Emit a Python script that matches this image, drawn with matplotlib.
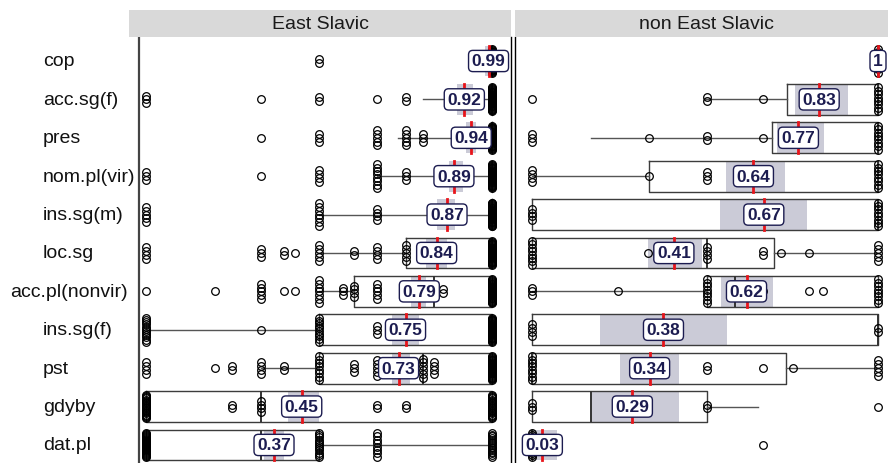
import numpy as np
import matplotlib
matplotlib.use("Agg")
import matplotlib.pyplot as plt
import matplotlib.transforms as mtransforms
from matplotlib.patches import Rectangle

plt.rcParams["font.family"] = ["Liberation Sans", "DejaVu Sans"]

rows = ["cop", "acc.sg(f)", "pres", "nom.pl(vir)", "ins.sg(m)", "loc.sg",
        "acc.pl(nonvir)", "ins.sg(f)", "pst", "gdyby", "dat.pl"]
panels = ["East Slavic", "non East Slavic"]

# East Slavic
es_mean = [0.99, 0.92, 0.94, 0.89, 0.87, 0.84, 0.79, 0.75, 0.73, 0.45, 0.37]
es_ci_lo = [0.98, 0.90, 0.925, 0.876, 0.84, 0.81, 0.766, 0.71, 0.71, 0.41, 0.34]
es_ci_hi = [1.00, 0.945, 0.955, 0.916, 0.893, 0.87, 0.81, 0.79, 0.763, 0.50, 0.40]
# whislo, q1, med, q3, whishi
es_box = [(1, 1, 1, 1, 1), (0.8, 1, 1, 1, 1), (0.727, 1, 1, 1, 1),
          (0.667, 1, 1, 1, 1), (0.5, 1, 1, 1, 1), (0.5, 0.75, 1, 1, 1),
          (0.5, 0.6, 0.833, 1, 1), (0, 0.5, 1, 1, 1), (0.333, 0.5, 0.8, 1, 1),
          (0, 0, 0.333, 1, 1), (0, 0, 0.333, 0.5, 1)]
es_points = [
    {0.5: 2, 1: 30},
    {0: 3, 0.333: 1, 0.5: 2, 0.667: 1, 0.75: 2, 1: 30},
    {0.333: 1, 0.5: 3, 0.667: 5, 0.75: 5, 0.8: 3, 1: 30},
    {0: 3, 0.333: 1, 0.5: 4, 0.667: 8, 0.75: 3, 1: 30},
    {0: 5, 0.5: 7, 0.667: 4, 1: 30},
    {0: 4, 0.333: 3, 0.4: 2, 0.43: 1, 0.5: 5, 0.6: 2, 0.667: 4, 0.75: 5, 0.8: 1, 1: 30},
    {0: 1, 0.2: 1, 0.333: 5, 0.4: 1, 0.43: 1, 0.5: 7, 0.57: 3, 0.6: 4, 0.667: 5, 0.857: 2, 1: 30},
    {0: 12, 0.333: 1, 0.5: 10, 0.667: 3, 1: 30},
    {0: 4, 0.2: 1, 0.25: 2, 0.333: 4, 0.4: 2, 0.5: 8, 0.6: 3, 0.667: 5, 0.8: 6, 0.833: 4, 1: 30},
    {0: 20, 0.25: 2, 0.333: 4, 0.667: 2, 0.75: 2, 1: 20},
    {0: 25, 0.333: 3, 0.5: 12, 0.667: 8, 1: 15},
]

# non East Slavic
nes_mean = [1, 0.83, 0.77, 0.64, 0.67, 0.41, 0.62, 0.38, 0.34, 0.29, 0.03]
nes_ci_lo = [1, 0.76, 0.708, 0.56, 0.543, 0.335, 0.546, 0.196, 0.254, 0.17, 0.0]
nes_ci_hi = [1, 0.913, 0.844, 0.73, 0.795, 0.49, 0.697, 0.563, 0.425, 0.425, 0.072]
nes_box = [(1, 1, 1, 1, 1), (0.5, 0.737, 1, 1, 1), (0.17, 0.694, 1, 1, 1),
           (0, 0.338, 1, 1, 1), (0, 0, 1, 1, 1), (0, 0, 0.505, 0.7, 1),
           (0, 0.505, 0.587, 1, 1), (0, 0, 1, 1, 1), (0, 0, 0, 0.734, 1),
           (0, 0, 0.17, 0.505, 0.654), (0, 0, 0, 0, 0)]
nes_points = [
    {1: 8},
    {0: 1, 0.505: 2, 0.667: 1, 0.8: 1, 1: 8},
    {0: 3, 0.338: 1, 0.505: 2, 0.667: 1, 0.755: 1, 1: 8},
    {0: 4, 0.338: 1, 0.505: 3, 1: 8},
    {0: 4, 1: 8},
    {0: 8, 0.335: 1, 0.505: 4, 0.667: 2, 0.72: 1, 0.8: 1, 1: 5},
    {0: 3, 0.25: 1, 0.505: 8, 0.667: 1, 0.8: 1, 0.84: 1, 1: 8},
    {0: 4, 1: 2},
    {0: 8, 0.505: 2, 0.667: 1, 0.755: 1, 1: 5},
    {0: 3, 0.505: 2, 1: 1},
    {0: 12, 0.667: 1},
]

W, H = 888, 464
fig = plt.figure(figsize=(W / 100, H / 100), dpi=100)

ax_w = 382 / W
ax_h = 426 / H
ax1 = fig.add_axes([129 / W, 0, ax_w, ax_h])
ax2 = fig.add_axes([515 / W, 0, ax_w, ax_h])

navy = "#1c1c50"


def draw_panel(ax, mean, lo, hi, box, points):
    n = len(rows)
    stats = [dict(whislo=b[0], q1=b[1], med=b[2], q3=b[3], whishi=b[4]) for b in box]
    ax.bxp(stats, positions=list(range(n)), widths=0.8, orientation="horizontal",
           showfliers=False, showcaps=False, manage_ticks=False,
           boxprops=dict(color="#3c3c3c", lw=1),
           whiskerprops=dict(color="#555555", lw=1),
           medianprops=dict(color="#333333", lw=1.4))
    for i in range(n):
        ax.add_patch(Rectangle((lo[i], i - 0.4), hi[i] - lo[i], 0.8,
                               fc="#cbcbd7", ec="none", zorder=0.5))
        for v, cnt in points[i].items():
            spread = min(0.1 * (cnt - 1), 0.62)
            ys = i + np.linspace(-spread / 2, spread / 2, cnt)
            ax.plot(np.full(cnt, v), ys, "o", mfc="none", mec="black",
                    ms=5.5, mew=0.9, zorder=3)
        ax.plot([mean[i], mean[i]], [i - 0.4, i + 0.4], color="#e8141a",
                lw=2, zorder=4)
        ax.text(mean[i], i, f"{mean[i]:g}", ha="center", va="center",
                fontsize=12.5, fontweight="bold", color=navy, zorder=5,
                bbox=dict(boxstyle="round,pad=0.18,rounding_size=0.25",
                          fc="white", ec=navy, lw=1))
    ax.set_xlim(-0.0491, 1.0549)
    ax.set_ylim(10.47, -0.625)
    ax.set_xticks([])
    ax.set_yticks([])
    for s in ax.spines.values():
        s.set_visible(False)


draw_panel(ax1, es_mean, es_ci_lo, es_ci_hi, es_box, es_points)
draw_panel(ax2, nes_mean, nes_ci_lo, nes_ci_hi, nes_box, nes_points)

ax1.axvline(-0.0188, color="#444444", lw=1.6)
ax1.spines["right"].set_visible(True)
ax1.spines["right"].set_linewidth(1)
ax2.spines["left"].set_visible(True)
ax2.spines["left"].set_linewidth(1)

# facet strips
strip_y0 = 1 - 38 / H
strip_h = 27 / H
for x0, x1, name in [(129, 511, panels[0]), (515, 897, panels[1])]:
    fig.patches.append(Rectangle((x0 / W, strip_y0), (x1 - x0) / W, strip_h,
                                 transform=fig.transFigure, fc="#d9d9d9",
                                 ec="none"))
    fig.text((x0 + x1) / 2 / W, strip_y0 + strip_h / 2, name,
             ha="center", va="center", fontsize=14, color="#1a1a1a")

# row labels
trans = mtransforms.blended_transform_factory(fig.transFigure, ax1.transData)
renderer = fig.canvas.get_renderer()
for i, lab in enumerate(rows):
    t = fig.text(43 / W, i, lab, ha="left", va="center", fontsize=14,
                 color="#111111", transform=trans)
    bb = t.get_window_extent(renderer=renderer)
    if bb.x1 > 137:
        t.set_x(128 / W)
        t.set_ha("right")

fig.savefig("out.png", dpi=100)
